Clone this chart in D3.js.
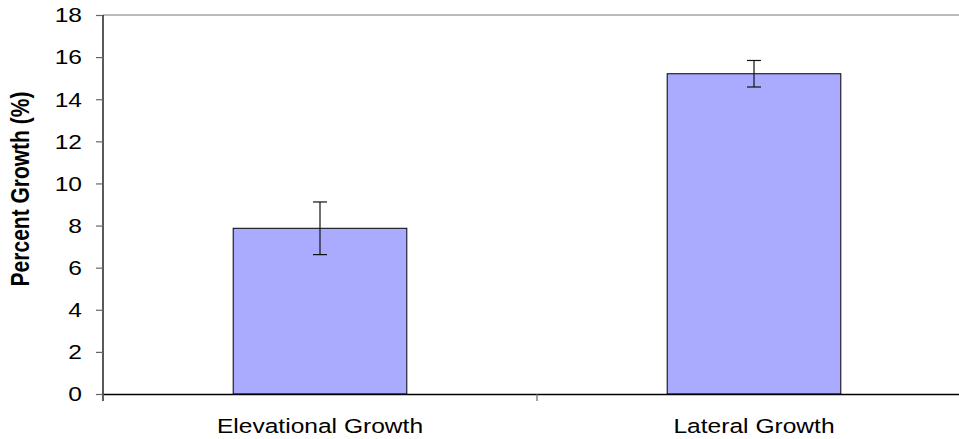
<!DOCTYPE html>
<html>
<head>
<meta charset="utf-8">
<script src="https://cdn.jsdelivr.net/npm/d3@7"></script>
<style>
  html, body { margin: 0; padding: 0; background: #fff; }
  svg { display: block; }
  text { font-family: "Liberation Sans", Arial, sans-serif; fill: #000; }
</style>
</head>
<body>
<svg id="chart" width="959" height="439"></svg>
<script>
// Growth measurements with standard-error bars
const categories = ["Elevational Growth", "Lateral Growth"];
const growthValues = [7.87, 15.21];
const growthErrors = [1.25, 0.63];
const yTickValues = [0, 2, 4, 6, 8, 10, 12, 14, 16, 18];
const yTitle = "Percent Growth (%)";

(function () {
  const svg = d3.select("#chart");
  const plotLeft = 103, plotRight = 971, plotTop = 15, plotBottom = 394;
  const sx = 1.26; // horizontal text stretch
  const fontSize = 19.5;

  const x = d3.scaleBand().domain(categories).range([plotLeft, plotRight]).padding(0);
  const y = d3.scaleLinear().domain([0, 18]).range([plotBottom, plotTop]);

  // top border line of plot area
  svg.append("line")
    .attr("x1", plotLeft).attr("x2", plotRight)
    .attr("y1", y(18)).attr("y2", y(18))
    .attr("stroke", "#a6a6a6").attr("stroke-width", 1.3);

  // bars
  const barW = x.bandwidth() * 0.4;
  const data = categories.map((c, i) => ({ c, v: growthValues[i], e: growthErrors[i] }));

  svg.selectAll("rect.bar").data(data).enter().append("rect")
    .attr("class", "bar")
    .attr("x", d => x(d.c) + x.bandwidth() / 2 - barW / 2)
    .attr("y", d => y(d.v))
    .attr("width", barW)
    .attr("height", d => y(0) - y(d.v))
    .attr("fill", "#aaaaff")
    .attr("stroke", "#000")
    .attr("stroke-width", 1);

  // error bars
  const capW = 14;
  const cx = d => x(d.c) + x.bandwidth() / 2;
  const eb = svg.selectAll("g.err").data(data).enter().append("g").attr("class", "err")
    .attr("stroke", "#111").attr("stroke-width", 1.2);
  eb.append("line")
    .attr("x1", cx).attr("x2", cx)
    .attr("y1", d => y(d.v + d.e)).attr("y2", d => y(d.v - d.e));
  eb.append("line")
    .attr("x1", d => cx(d) - capW / 2).attr("x2", d => cx(d) + capW / 2)
    .attr("y1", d => y(d.v + d.e)).attr("y2", d => y(d.v + d.e));
  eb.append("line")
    .attr("x1", d => cx(d) - capW / 2).attr("x2", d => cx(d) + capW / 2)
    .attr("y1", d => y(d.v - d.e)).attr("y2", d => y(d.v - d.e));

  // y axis
  const yAxis = d3.axisLeft(y).tickValues(yTickValues).tickSize(7).tickPadding(0).tickFormat(d3.format("d"));
  const gy = svg.append("g").attr("transform", `translate(${plotLeft},0)`).call(yAxis);
  gy.select(".domain").attr("stroke", "#000").attr("stroke-width", 1.3)
    .attr("d", `M0,${plotTop}V${plotBottom + 7}`);
  gy.selectAll(".tick line").attr("stroke", "#666").attr("stroke-width", 1.2);
  gy.selectAll(".tick text")
    .attr("font-size", fontSize)
    .attr("font-family", "Liberation Sans, Arial, sans-serif")
    .attr("text-anchor", "end")
    .attr("x", null).attr("dy", null)
    .attr("transform", `translate(-21,6.8) scale(${sx},1)`);

  // x axis
  const xAxis = d3.axisBottom(x).tickValues([]).tickSizeOuter(0);
  const gx = svg.append("g").attr("transform", `translate(0,${plotBottom})`).call(xAxis);
  gx.select(".domain").attr("stroke", "#000").attr("stroke-width", 1.3);
  // separator ticks between categories
  const sepTicks = [x.range()[0], x(categories[1])];
  gx.selectAll("line.sep").data(sepTicks).enter().append("line")
    .attr("class", "sep")
    .attr("x1", d => d).attr("x2", d => d)
    .attr("y1", 0).attr("y2", 7)
    .attr("stroke", "#666").attr("stroke-width", 1.2);

  // category labels
  svg.selectAll("text.cat").data(categories).enter().append("text")
    .attr("class", "cat")
    .attr("text-anchor", "middle")
    .attr("font-size", fontSize)
    .attr("transform", d => `translate(${x(d) + x.bandwidth() / 2},432.5) scale(${sx},1)`)
    .text(d => d);

  // y title
  svg.append("text")
    .attr("text-anchor", "middle")
    .attr("font-size", 21)
    .attr("font-weight", "bold")
    .attr("transform", `translate(29,189) scale(${sx},1) rotate(-90)`)
    .text(yTitle);
})();
</script>
</body>
</html>
